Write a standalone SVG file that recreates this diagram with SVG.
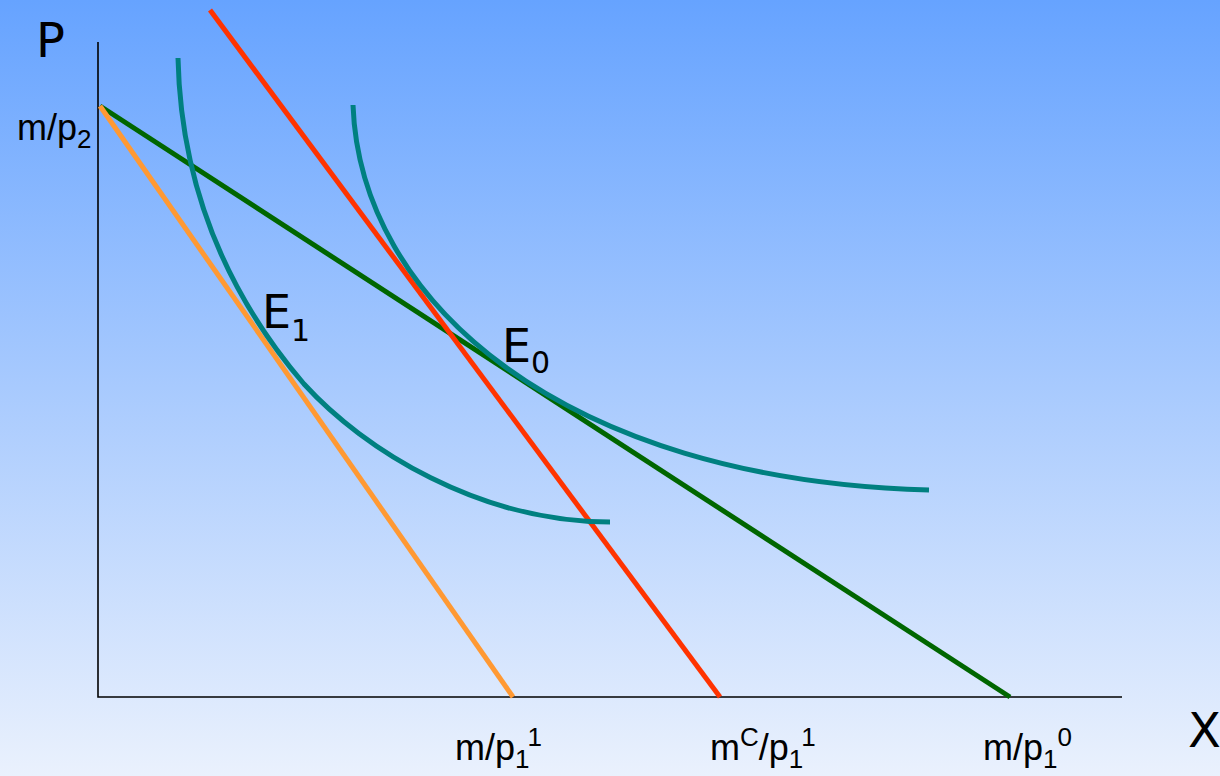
<svg xmlns="http://www.w3.org/2000/svg" width="1220" height="776" viewBox="0 0 1220 776">
<defs>
<linearGradient id="bg" x1="0" y1="0" x2="0" y2="1">
<stop offset="0" stop-color="#66A3FF"/>
<stop offset="1" stop-color="#EAF1FD"/>
</linearGradient>
<style>
.ax{stroke:#000;stroke-width:1.6;fill:none}
.ln{stroke-width:5;fill:none}
.ic{stroke:#008080;stroke-width:5;fill:none}
.big{font-family:"DejaVu Sans",sans-serif;fill:#000}
.lab{font-family:"Liberation Sans",Arial,sans-serif;fill:#000;font-size:36px}
</style>
</defs>
<rect x="0" y="0" width="1220" height="776" fill="url(#bg)"/>
<g id="axes">
<path class="ax" d="M98,42 V697 H1122"/>
</g>
<g id="connectors">
<line id="budget0" class="ln" stroke="#006600" x1="100" y1="106" x2="1010" y2="697"/>
<line id="budget1" class="ln" stroke="#FF9933" x1="100" y1="106" x2="513" y2="697"/>
<line id="budgetC" class="ln" stroke="#FF3300" x1="210" y1="10" x2="720" y2="697"/>
</g>
<g id="indiff1">
<path class="ic" d="M178,58 C181,196 234,302 304,384 C364,450 480,522 610,522"/>
</g>
<g id="indiff0">
<path class="ic" d="M353,105 C360,300 560,480 929,490"/>
</g>
<g id="labels">
<text class="big" x="36" y="57" font-size="48">P</text>
<text class="big" x="1188" y="747" font-size="48">X</text>
<text class="lab" x="17" y="140">m/p<tspan font-size="26" dy="8">2</tspan></text>
<text class="big" x="262" y="328" font-size="46">E<tspan font-size="30" dy="13">1</tspan></text>
<text class="big" x="502" y="362" font-size="46">E<tspan font-size="30" dy="11">0</tspan></text>
<text class="lab" x="455" y="760">m/p<tspan font-size="26" dy="8">1</tspan><tspan font-size="26" dy="-22">1</tspan></text>
<text class="lab" x="710" y="760">m<tspan font-size="26" dy="-14">C</tspan><tspan dy="14">/p</tspan><tspan font-size="26" dy="8">1</tspan><tspan font-size="26" dy="-22">1</tspan></text>
<text class="lab" x="983" y="760">m/p<tspan font-size="26" dy="8">1</tspan><tspan font-size="26" dy="-22">0</tspan></text>
</g>
</svg>
